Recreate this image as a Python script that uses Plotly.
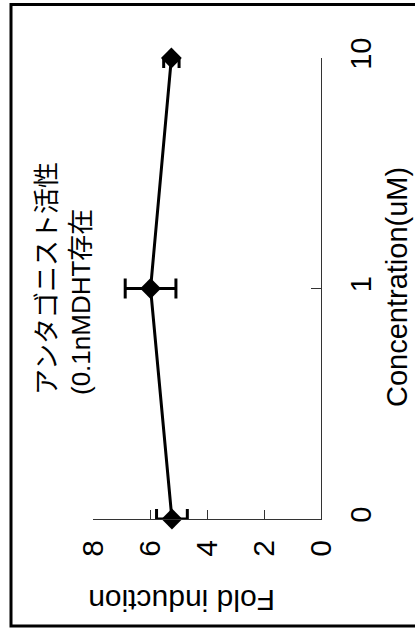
import plotly.graph_objects as go

# Data
concentrations = ["0", "1", "10"]
fold_induction = [5.23, 5.98, 5.25]
fold_error = [0.54, 0.89, 0.27]
value_ticks = [0, 2, 4, 6, 8]

W, H = 415, 632
L, R, T, B = 93, 94, 58, 113
pw = W - L - R
ph = H - T - B


def px(xp):
    return (xp - L) / pw


def py(yp):
    return (H - B - yp) / ph


LATIN = "Liberation Sans, Arial, sans-serif"
CJK = "Liberation Sans, Noto Sans CJK JP, sans-serif"

fig = go.Figure()
fig.add_trace(go.Scatter(
    x=fold_induction,
    y=concentrations,
    mode="lines+markers",
    line=dict(color="black", width=3),
    marker=dict(symbol="diamond", size=16, color="black"),
    error_x=dict(type="data", array=fold_error, visible=True,
                 color="black", thickness=3, width=10),
    showlegend=False,
    cliponaxis=False,
))

fig.update_layout(
    width=W, height=H,
    margin=dict(l=L, r=R, t=T, b=B, pad=0),
    paper_bgcolor="white", plot_bgcolor="white",
    xaxis=dict(
        range=[8, 0], tickvals=value_ticks, ticktext=[str(v) for v in value_ticks],
        showgrid=False, zeroline=False, showline=True, linecolor="#333", linewidth=1,
        ticks="inside", ticklen=9, tickcolor="#333", tickwidth=1,
        tickangle=-90, tickfont=dict(family=LATIN, size=30, color="black"),
        ticklabelstandoff=8,
    ),
    yaxis=dict(
        type="category", range=[0, 2], side="right",
        showgrid=False, zeroline=False, showline=True, linecolor="#333", linewidth=1,
        ticks="inside", ticklen=10, tickcolor="#333", tickwidth=1,
        tickangle=-90, tickfont=dict(family=LATIN, size=29, color="black"),
        ticklabelstandoff=14,
    ),
    shapes=[dict(
        type="rect", xref="paper", yref="paper",
        x0=px(11), x1=px(420), y0=py(626), y1=py(4.5),
        line=dict(color="black", width=3), fillcolor="rgba(0,0,0,0)", layer="above",
    )],
    annotations=[
        dict(text="Fold induction", xref="paper", yref="paper", x=px(182), y=py(601),
             showarrow=False, textangle=180, xanchor="center", yanchor="middle",
             font=dict(family=LATIN, size=30, color="black")),
        dict(text="Concentration(uM)", xref="paper", yref="paper", x=px(397), y=py(287),
             showarrow=False, textangle=-90, xanchor="center", yanchor="middle",
             font=dict(family=LATIN, size=29, color="black")),
        dict(text="アンタゴニスト活性<br>(0.1nMDHT存在", xref="paper", yref="paper",
             x=px(64), y=py(279), showarrow=False, textangle=-90, align="left",
             xanchor="center", yanchor="middle",
             font=dict(family=CJK, size=26, color="black")),
    ],
)

fig.write_html("out.html")
